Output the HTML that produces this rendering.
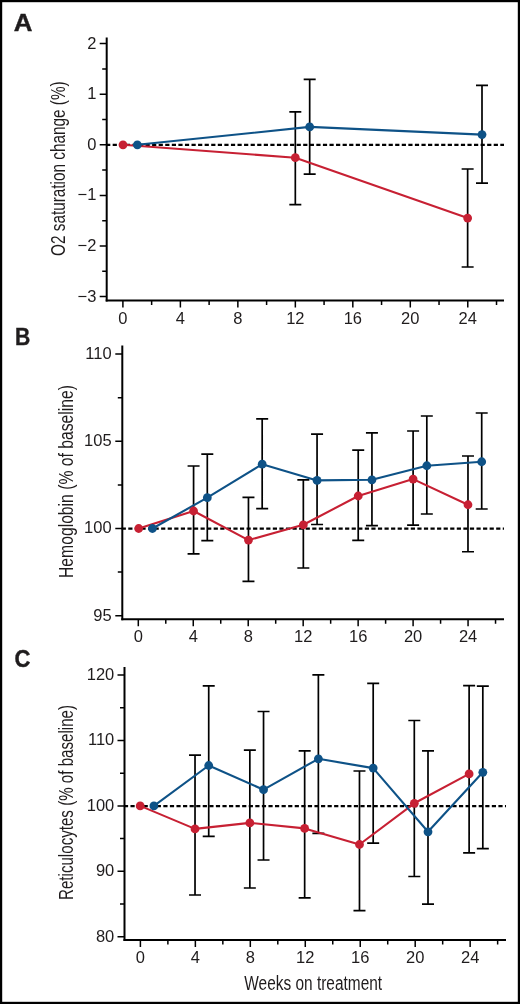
<!DOCTYPE html>
<html><head><meta charset="utf-8"><title>Figure</title>
<style>html,body{margin:0;padding:0;background:#fff;}body{width:520px;height:1004px;overflow:hidden;}svg{display:block;will-change:transform;}text{font-family:"Liberation Sans", sans-serif;fill:#1f1c1d;}</style>
</head><body>
<svg width="520" height="1004" viewBox="0 0 520 1004">
<rect x="0" y="0" width="520" height="1004" fill="#fff"/>
<g>
<text transform="translate(13.8 30.9) scale(1.1 1)" font-size="23.5" font-weight="bold" stroke="#1f1c1d" stroke-width="0.4">A</text>
<line x1="106.1" y1="144.95" x2="504" y2="144.95" stroke="#000" stroke-width="2.3" stroke-dasharray="4.2 2.37"/>
<path d="M106.7 37.5V301.5" fill="none" stroke="#000" stroke-width="2.0"/>
<path d="M105.7 300.5H504" fill="none" stroke="#000" stroke-width="2.0"/>
<path d="M99.7 43.6H106.7M99.7 94.2H106.7M99.7 144.8H106.7M99.7 195.4H106.7M99.7 246H106.7M99.7 296.6H106.7M102.2 68.9H106.7M102.2 119.5H106.7M102.2 170.1H106.7M102.2 220.7H106.7M102.2 271.3H106.7M122.9 300.5V307.5M151.64 300.5V305M180.38 300.5V307.5M209.12 300.5V305M237.86 300.5V307.5M266.6 300.5V305M295.34 300.5V307.5M324.08 300.5V305M352.82 300.5V307.5M381.56 300.5V305M410.3 300.5V307.5M439.04 300.5V305M467.78 300.5V307.5M496.52 300.5V305" stroke="#000" stroke-width="1.5"/>
<text x="96.4" y="48.5" font-size="16.5" text-anchor="end">2</text>
<text x="96.4" y="99.1" font-size="16.5" text-anchor="end">1</text>
<text x="96.4" y="149.7" font-size="16.5" text-anchor="end">0</text>
<text x="96.4" y="200.3" font-size="16.5" text-anchor="end">−1</text>
<text x="96.4" y="250.9" font-size="16.5" text-anchor="end">−2</text>
<text x="96.4" y="301.5" font-size="16.5" text-anchor="end">−3</text>
<text x="122.9" y="323.8" font-size="16.5" text-anchor="middle">0</text>
<text x="180.38" y="323.8" font-size="16.5" text-anchor="middle">4</text>
<text x="237.86" y="323.8" font-size="16.5" text-anchor="middle">8</text>
<text x="295.34" y="323.8" font-size="16.5" text-anchor="middle">12</text>
<text x="352.82" y="323.8" font-size="16.5" text-anchor="middle">16</text>
<text x="410.3" y="323.8" font-size="16.5" text-anchor="middle">20</text>
<text x="467.78" y="323.8" font-size="16.5" text-anchor="middle">24</text>
<text transform="translate(64.8 168.65) rotate(-90)" x="0" y="0" font-size="19.5" text-anchor="middle" textLength="174.7" lengthAdjust="spacingAndGlyphs">O2 saturation change (%)</text>
<path d="M295.32 111.8V204.7M289.32 111.8H301.32M289.32 204.7H301.32M467.64 169V267M461.64 169H473.64M461.64 267H473.64M309.68 79.4V174.1M303.68 79.4H315.68M303.68 174.1H315.68M482 85.4V183.2M476 85.4H488M476 183.2H488" stroke="#000" stroke-width="1.7" fill="none"/>
<polyline points="123,144.8 295.32,157.7 467.64,218.1" fill="none" stroke="#c72033" stroke-width="2.1" stroke-linejoin="round"/>
<polyline points="137.36,144.8 309.68,126.9 482,134.6" fill="none" stroke="#0e5287" stroke-width="2.1" stroke-linejoin="round"/>
<circle cx="123" cy="144.8" r="4.4" fill="#c72033"/>
<circle cx="295.32" cy="157.7" r="4.4" fill="#c72033"/>
<circle cx="467.64" cy="218.1" r="4.4" fill="#c72033"/>
<circle cx="137.36" cy="144.8" r="4.4" fill="#0e5287"/>
<circle cx="309.68" cy="126.9" r="4.4" fill="#0e5287"/>
<circle cx="482" cy="134.6" r="4.4" fill="#0e5287"/>
</g>
<g>
<text transform="translate(15 345.2) scale(0.9 1)" font-size="23.5" font-weight="bold" stroke="#1f1c1d" stroke-width="0.4">B</text>
<line x1="121.7" y1="528.65" x2="504" y2="528.65" stroke="#000" stroke-width="2.3" stroke-dasharray="4.2 2.37"/>
<path d="M122.3 345.6V620.2" fill="none" stroke="#000" stroke-width="2.0"/>
<path d="M121.3 619.2H504" fill="none" stroke="#000" stroke-width="2.0"/>
<path d="M115.3 354.1H122.3M115.3 441.3H122.3M115.3 528.5H122.3M115.3 615.7H122.3M117.8 397.7H122.3M117.8 484.9H122.3M117.8 572.1H122.3M138.3 619.2V626.2M165.78 619.2V623.7M193.26 619.2V626.2M220.74 619.2V623.7M248.22 619.2V626.2M275.7 619.2V623.7M303.18 619.2V626.2M330.66 619.2V623.7M358.14 619.2V626.2M385.62 619.2V623.7M413.1 619.2V626.2M440.58 619.2V623.7M468.06 619.2V626.2M495.54 619.2V623.7" stroke="#000" stroke-width="1.5"/>
<text x="111.6" y="359" font-size="16.5" text-anchor="end">110</text>
<text x="111.6" y="446.2" font-size="16.5" text-anchor="end">105</text>
<text x="111.6" y="533.4" font-size="16.5" text-anchor="end">100</text>
<text x="111.6" y="620.6" font-size="16.5" text-anchor="end">95</text>
<text x="138.3" y="642.3" font-size="16.5" text-anchor="middle">0</text>
<text x="193.26" y="642.3" font-size="16.5" text-anchor="middle">4</text>
<text x="248.22" y="642.3" font-size="16.5" text-anchor="middle">8</text>
<text x="303.18" y="642.3" font-size="16.5" text-anchor="middle">12</text>
<text x="358.14" y="642.3" font-size="16.5" text-anchor="middle">16</text>
<text x="413.1" y="642.3" font-size="16.5" text-anchor="middle">20</text>
<text x="468.06" y="642.3" font-size="16.5" text-anchor="middle">24</text>
<text transform="translate(73 481.5) rotate(-90)" x="0" y="0" font-size="19.5" text-anchor="middle" textLength="193" lengthAdjust="spacingAndGlyphs">Hemoglobin (% of baseline)</text>
<path d="M193.58 466V553.9M187.58 466H199.58M187.58 553.9H199.58M248.46 497.4V581.3M242.46 497.4H254.46M242.46 581.3H254.46M303.34 479.8V568M297.34 479.8H309.34M297.34 568H309.34M358.22 450.1V540.4M352.22 450.1H364.22M352.22 540.4H364.22M413.1 431V525.2M407.1 431H419.1M407.1 525.2H419.1M467.98 456V551.75M461.98 456H473.98M461.98 551.75H473.98M207.3 454.1V540.7M201.3 454.1H213.3M201.3 540.7H213.3M262.18 418.9V508.6M256.18 418.9H268.18M256.18 508.6H268.18M317.06 434.2V524.5M311.06 434.2H323.06M311.06 524.5H323.06M371.94 432.8V525.7M365.94 432.8H377.94M365.94 525.7H377.94M426.82 416V514M420.82 416H432.82M420.82 514H432.82M481.7 413V509M475.7 413H487.7M475.7 509H487.7" stroke="#000" stroke-width="1.7" fill="none"/>
<polyline points="138.7,528.5 193.58,511 248.46,540.1 303.34,524.8 358.22,496 413.1,479.1 467.98,504.75" fill="none" stroke="#c72033" stroke-width="2.1" stroke-linejoin="round"/>
<polyline points="152.42,528.5 207.3,497.7 262.18,464.2 317.06,480.4 371.94,479.8 426.82,465.75 481.7,461.75" fill="none" stroke="#0e5287" stroke-width="2.1" stroke-linejoin="round"/>
<circle cx="138.7" cy="528.5" r="4.4" fill="#c72033"/>
<circle cx="193.58" cy="511" r="4.4" fill="#c72033"/>
<circle cx="248.46" cy="540.1" r="4.4" fill="#c72033"/>
<circle cx="303.34" cy="524.8" r="4.4" fill="#c72033"/>
<circle cx="358.22" cy="496" r="4.4" fill="#c72033"/>
<circle cx="413.1" cy="479.1" r="4.4" fill="#c72033"/>
<circle cx="467.98" cy="504.75" r="4.4" fill="#c72033"/>
<circle cx="152.42" cy="528.5" r="4.4" fill="#0e5287"/>
<circle cx="207.3" cy="497.7" r="4.4" fill="#0e5287"/>
<circle cx="262.18" cy="464.2" r="4.4" fill="#0e5287"/>
<circle cx="317.06" cy="480.4" r="4.4" fill="#0e5287"/>
<circle cx="371.94" cy="479.8" r="4.4" fill="#0e5287"/>
<circle cx="426.82" cy="465.75" r="4.4" fill="#0e5287"/>
<circle cx="481.7" cy="461.75" r="4.4" fill="#0e5287"/>
</g>
<g>
<text transform="translate(14.5 666.8) scale(0.94 1)" font-size="23.5" font-weight="bold" stroke="#1f1c1d" stroke-width="0.4">C</text>
<line x1="123.9" y1="806.05" x2="506" y2="806.05" stroke="#000" stroke-width="2.3" stroke-dasharray="4.2 2.37"/>
<path d="M124.5 667V940.9" fill="none" stroke="#000" stroke-width="2.0"/>
<path d="M123.5 939.9H506" fill="none" stroke="#000" stroke-width="2.0"/>
<path d="M117.5 675.1H124.5M117.5 740.5H124.5M117.5 805.9H124.5M117.5 871.3H124.5M117.5 936.7H124.5M120 707.8H124.5M120 773.2H124.5M120 838.6H124.5M120 904H124.5M140.4 939.9V946.9M167.88 939.9V944.4M195.36 939.9V946.9M222.84 939.9V944.4M250.32 939.9V946.9M277.8 939.9V944.4M305.28 939.9V946.9M332.76 939.9V944.4M360.24 939.9V946.9M387.72 939.9V944.4M415.2 939.9V946.9M442.68 939.9V944.4M470.16 939.9V946.9M497.64 939.9V944.4" stroke="#000" stroke-width="1.5"/>
<text x="114.3" y="680" font-size="16.5" text-anchor="end">120</text>
<text x="114.3" y="745.4" font-size="16.5" text-anchor="end">110</text>
<text x="114.3" y="810.8" font-size="16.5" text-anchor="end">100</text>
<text x="114.3" y="876.2" font-size="16.5" text-anchor="end">90</text>
<text x="114.3" y="941.6" font-size="16.5" text-anchor="end">80</text>
<text x="140.4" y="963" font-size="16.5" text-anchor="middle">0</text>
<text x="195.36" y="963" font-size="16.5" text-anchor="middle">4</text>
<text x="250.32" y="963" font-size="16.5" text-anchor="middle">8</text>
<text x="305.28" y="963" font-size="16.5" text-anchor="middle">12</text>
<text x="360.24" y="963" font-size="16.5" text-anchor="middle">16</text>
<text x="415.2" y="963" font-size="16.5" text-anchor="middle">20</text>
<text x="470.16" y="963" font-size="16.5" text-anchor="middle">24</text>
<text transform="translate(73 802.5) rotate(-90)" x="0" y="0" font-size="19.5" text-anchor="middle" textLength="195" lengthAdjust="spacingAndGlyphs">Reticulocytes (% of baseline)</text>
<path d="M195.02 755.1V895M189.02 755.1H201.02M189.02 895H201.02M249.84 750.2V888M243.84 750.2H255.84M243.84 888H255.84M304.66 750.8V897.9M298.66 750.8H310.66M298.66 897.9H310.66M359.48 771V910.6M353.48 771H365.48M353.48 910.6H365.48M414.3 720.5V876.5M408.3 720.5H420.3M408.3 876.5H420.3M469.12 685.6V852.8M463.12 685.6H475.12M463.12 852.8H475.12M208.72 685.9V836.4M202.72 685.9H214.72M202.72 836.4H214.72M263.54 711.5V860M257.54 711.5H269.54M257.54 860H269.54M318.37 674.9V833.3M312.37 674.9H324.37M312.37 833.3H324.37M373.19 683.3V843.1M367.19 683.3H379.19M367.19 843.1H379.19M428 750.8V904.2M422 750.8H434M422 904.2H434M482.82 686.2V848.7M476.82 686.2H488.82M476.82 848.7H488.82" stroke="#000" stroke-width="1.7" fill="none"/>
<polyline points="140.2,805.9 195.02,828.9 249.84,822.9 304.66,828.4 359.48,844.5 414.3,803.3 469.12,773.9" fill="none" stroke="#c72033" stroke-width="2.1" stroke-linejoin="round"/>
<polyline points="153.91,805.9 208.72,765.5 263.54,789.7 318.37,758.8 373.19,768.1 428,831.8 482.82,772.3" fill="none" stroke="#0e5287" stroke-width="2.1" stroke-linejoin="round"/>
<circle cx="140.2" cy="805.9" r="4.4" fill="#c72033"/>
<circle cx="195.02" cy="828.9" r="4.4" fill="#c72033"/>
<circle cx="249.84" cy="822.9" r="4.4" fill="#c72033"/>
<circle cx="304.66" cy="828.4" r="4.4" fill="#c72033"/>
<circle cx="359.48" cy="844.5" r="4.4" fill="#c72033"/>
<circle cx="414.3" cy="803.3" r="4.4" fill="#c72033"/>
<circle cx="469.12" cy="773.9" r="4.4" fill="#c72033"/>
<circle cx="153.91" cy="805.9" r="4.4" fill="#0e5287"/>
<circle cx="208.72" cy="765.5" r="4.4" fill="#0e5287"/>
<circle cx="263.54" cy="789.7" r="4.4" fill="#0e5287"/>
<circle cx="318.37" cy="758.8" r="4.4" fill="#0e5287"/>
<circle cx="373.19" cy="768.1" r="4.4" fill="#0e5287"/>
<circle cx="428" cy="831.8" r="4.4" fill="#0e5287"/>
<circle cx="482.82" cy="772.3" r="4.4" fill="#0e5287"/>
</g>
<text x="244.3" y="989.6" font-size="19.5" textLength="137.8" lengthAdjust="spacingAndGlyphs">Weeks on treatment</text>
<rect x="1.1" y="1.1" width="517.8" height="1001.8" fill="none" stroke="#000" stroke-width="2.2"/>
</svg>
</body></html>
